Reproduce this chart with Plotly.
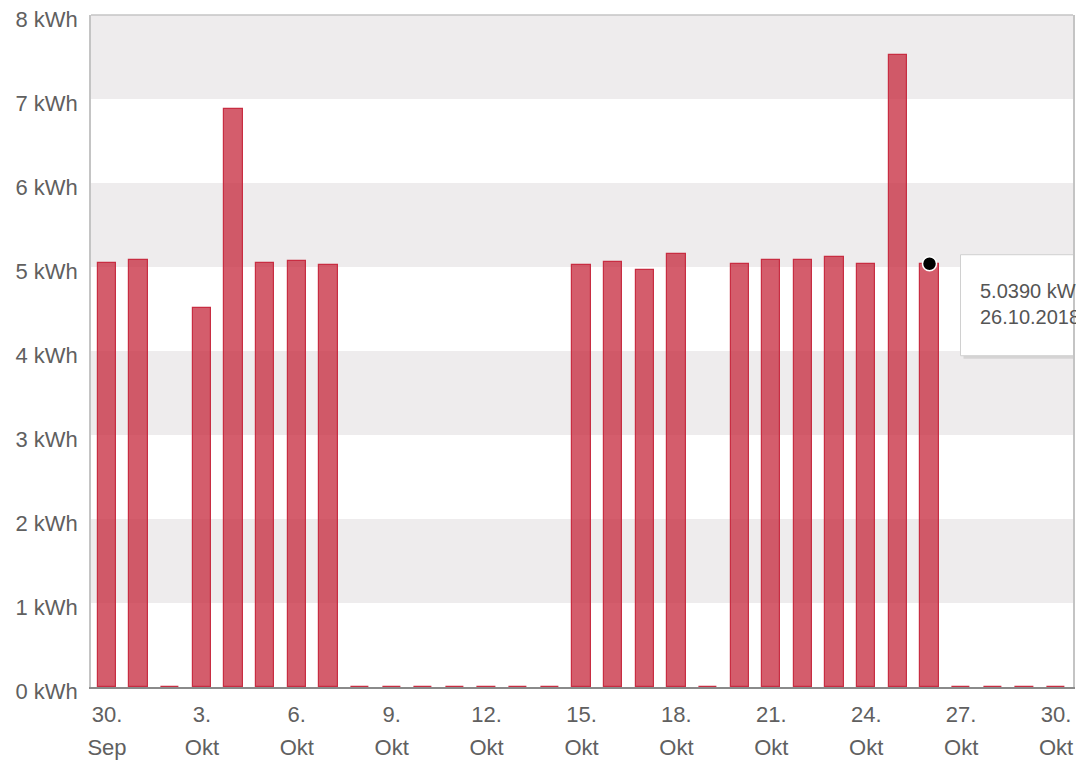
import plotly.graph_objects as go
import pandas as pd

# ---- data ----
dates = pd.date_range("2018-09-30", "2018-10-30", freq="D")
energy_kwh = [5.05, 5.08, 0, 4.51, 6.88, 5.05, 5.07, 5.02,
              0, 0, 0, 0, 0, 0, 0,
              5.02, 5.06, 4.97, 5.15, 0,
              5.04, 5.08, 5.08, 5.12, 5.04, 7.52, 5.039,
              0, 0, 0, 0]
tick_dates = pd.date_range("2018-09-30", "2018-10-30", freq="3D")
tick_day_text = [f"{d.day}." for d in tick_dates]
tick_month_text = ["Sep" if d.month == 9 else "Okt" for d in tick_dates]
y_ticks = [0, 1, 2, 3, 4, 5, 6, 7, 8]
y_tick_text = [f"{v} kWh" for v in y_ticks]
hover_date = pd.Timestamp("2018-10-26")
hover_value = 5.039
hover_lines = ["5.0390 kWh", "26.10.2018"]

TEXT = "#606060"
FONT = "Liberation Sans, Arial, sans-serif"

fig = go.Figure()
fig.add_trace(go.Bar(
    x=dates, y=energy_kwh, width=50_000_000,
    marker=dict(color="rgba(198,42,62,0.76)",
                line=dict(color="rgb(200,45,66)", width=1.2)),
    hoverinfo="skip", showlegend=False,
))
fig.add_trace(go.Scatter(
    x=[hover_date], y=[hover_value], mode="markers",
    marker=dict(color="black", size=14, line=dict(color="white", width=1.5)),
    hoverinfo="skip", showlegend=False, cliponaxis=False,
))
# empty trace to anchor month label axis
fig.add_trace(go.Scatter(x=[], y=[], xaxis="x2", showlegend=False))

shapes = []
# alternating bands
for lo, hi in zip(y_ticks[:-1], y_ticks[1:]):
    if lo % 2 == 1:
        shapes.append(dict(type="rect", xref="paper", yref="y", x0=0, x1=1,
                           y0=lo, y1=hi, fillcolor="#eeeced",
                           line=dict(width=0), layer="below"))
# top border
shapes.append(dict(type="line", xref="paper", yref="paper", x0=0, x1=1, y0=1, y1=1,
                   line=dict(color="#c4c4c4", width=1.5)))
# tooltip box (shadow + box)
shapes.append(dict(type="rect", xref="x", yref="y", xsizemode="pixel", ysizemode="pixel",
                   xanchor=hover_date, yanchor=hover_value,
                   x0=34, x1=260, y0=6, y1=-95,
                   fillcolor="rgba(0,0,0,0.10)", line=dict(width=0), layer="above"))
shapes.append(dict(type="rect", xref="x", yref="y", xsizemode="pixel", ysizemode="pixel",
                   xanchor=hover_date, yanchor=hover_value,
                   x0=31, x1=258, y0=9, y1=-92,
                   fillcolor="white", line=dict(color="#d0d0d0", width=1), layer="above"))

annotations = [dict(x=hover_date, y=hover_value, xref="x", yref="y",
                    text="<br>".join(hover_lines), showarrow=False,
                    xanchor="left", yanchor="middle", align="left",
                    xshift=48, yshift=-40,
                    font=dict(family=FONT, size=20, color="#555555"))]

fig.update_layout(
    width=1076, height=764,
    margin=dict(l=91, r=1, t=15, b=77),
    paper_bgcolor="white", plot_bgcolor="white",
    bargap=0,
    shapes=shapes, annotations=annotations,
    xaxis=dict(
        type="date",
        range=["2018-09-29 11:53", "2018-10-30 12:52"],
        tickmode="array", tickvals=tick_dates, ticktext=tick_day_text,
        ticks="", showgrid=False, zeroline=False,
        showline=True, linecolor="#8a8a8a", linewidth=2,
        tickfont=dict(family=FONT, size=22, color=TEXT),
        ticklabelstandoff=7,
    ),
    xaxis2=dict(
        type="date", overlaying="x", matches="x", side="bottom", anchor="y",
        range=["2018-09-29 11:53", "2018-10-30 12:52"],
        tickmode="array", tickvals=tick_dates, ticktext=tick_month_text,
        ticks="", showgrid=False, zeroline=False, showline=False,
        tickfont=dict(family=FONT, size=22, color=TEXT),
        ticklabelstandoff=45,
    ),
    yaxis=dict(
        range=[0, 8], tickmode="array", tickvals=y_ticks, ticktext=y_tick_text,
        ticks="", showgrid=False, zeroline=False,
        showline=True, mirror=True, linecolor="#c4c4c4", linewidth=1.5,
        tickfont=dict(family=FONT, size=22, color=TEXT),
        ticklabelstandoff=7, ticklabelshift=4,
    ),
)

post = ("document.body.style.margin='0';"
        "document.documentElement.style.overflow='hidden';"
        "var gd=document.getElementById('{plot_id}');"
        "Plotly.relayout(gd,{width:1076,height:764});")
fig.write_html("out.html", post_script=post, config={"displayModeBar": False})
